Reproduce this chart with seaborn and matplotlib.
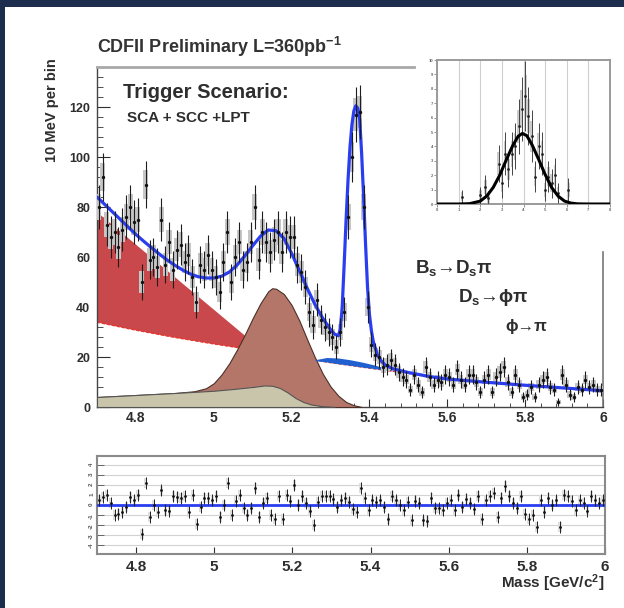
import numpy as np
import matplotlib
matplotlib.use("Agg")
import matplotlib.pyplot as plt
from matplotlib.patches import Rectangle
from matplotlib.ticker import MultipleLocator, FixedLocator
import seaborn as sns

# ---------------- data ----------------
mass_lo, mass_hi, bin_width = 4.70, 6.00, 0.01

counts = [
    80, 92, 73, 68, 70, 64, 71, 76, 80, 74,      # 4.705 - 4.795
    75, 50, 89, 59, 60, 56, 75, 57, 66, 55,      # 4.805 - 4.895
    63, 65, 58, 61, 52, 42, 57, 55, 61, 55,      # 4.905 - 4.995
    52, 46, 58, 70, 50, 60, 66, 55, 58, 66,      # 5.005 - 5.095
    80, 59, 70, 66, 62, 67, 70, 62, 70, 68,      # 5.105 - 5.195
    68, 57, 54, 48, 38, 33, 43, 35, 32, 30,      # 5.205 - 5.295
    28, 24, 30, 38, 76, 100, 117, 118, 80, 40,   # 5.305 - 5.395
    25, 21, 20, 16, 17, 19, 17, 14, 12, 11,      # 5.405 - 5.495
    7, 13, 9, 6, 16, 12, 9, 11, 10, 13,          # 5.505 - 5.595
    12, 9, 15, 11, 9, 13, 13, 10, 6, 11,         # 5.605 - 5.695
    13, 6, 12, 14, 16, 10, 6, 13, 9, 4,          # 5.705 - 5.795
    5, 8, 4, 9, 11, 12, 8, 7, 2, 13,             # 5.805 - 5.895
    9, 5, 4, 8, 7, 11, 8, 9, 7, 7,               # 5.905 - 5.995
]

residuals = [
    0.5, 0.8, 1.0, 0.2, -1.0, -0.9, -0.7, -0.2, 0.8, 0.5,
    1.0, -2.9, 2.2, -1.2, 0.0, -0.7, 1.5, -0.5, -0.6, 0.9,
    0.8, 0.7, 0.9, -0.7, 1.0, -1.9, -0.2, 0.7, 0.7, 0.5,
    0.9, -1.2, 0.0, 2.2, -1.0, 0.4, 1.0, -0.3, -1.0, -0.3,
    1.7, -1.2, 0.2, 0.7, -1.0, -1.4, 0.9, -1.4, 1.0, 0.4,
    2.0, 0.0, 0.9, 0.2, -0.6, -2.0, 0.3, 0.9, 0.9, 0.9,
    0.6, -0.2, 0.5, 0.7, 0.3, -0.4, -0.7, 1.7, 0.7, -0.5,
    0.5, 0.3, 0.5, -0.2, -1.4, 0.9, 0.5, 0.0, -0.5, 0.3,
    -1.5, 0.4, 0.2, -1.5, -1.6, 0.7, -0.3, -0.3, -0.5, 0.2,
    0.5, -0.5, 1.0, -0.2, 0.6, 0.2, -0.4, 0.9, -1.4, 0.5,
    0.9, 1.2, -1.2, 0.7, 1.9, 0.9, 0.2, -0.3, 0.9, -0.9,
    -1.4, -1.0, -2.2, 0.5, -0.7, 0.7, 0.0, 0.5, -2.2, 1.0,
    0.9, 0.4, -0.5, 0.5, 0.2, -0.6, 0.9, 0.5, 0.2, 0.5,
]

# total fit curve
fit_x = [4.70, 4.72, 4.74, 4.76, 4.78, 4.80, 4.82, 4.84, 4.86, 4.88,
         4.90, 4.92, 4.94, 4.96, 4.98, 5.00, 5.02, 5.04, 5.06, 5.08,
         5.10, 5.12, 5.14, 5.16, 5.18, 5.20, 5.22, 5.24, 5.26, 5.28,
         5.30, 5.31, 5.32, 5.325, 5.33, 5.335, 5.34, 5.345, 5.35, 5.355,
         5.36, 5.365, 5.37, 5.375, 5.38, 5.385, 5.39, 5.395, 5.40, 5.405,
         5.41, 5.42, 5.43, 5.44, 5.46, 5.50, 5.55, 5.60, 5.70, 5.80,
         5.90, 6.00]
fit_y = [84.0, 81.0, 78.0, 75.0, 72.0, 69.0, 66.3, 63.7, 61.2, 58.8,
         56.7, 54.8, 53.2, 52.1, 51.6, 51.6, 52.3, 54.0, 56.8, 60.5,
         64.5, 68.3, 70.8, 70.5, 67.5, 61.5, 54.5, 47.5, 41.0, 35.5,
         31.0, 29.2, 28.5, 31.0, 40.0, 57.0, 75.0, 91.0, 104.0, 113.0,
         118.5, 120.5, 119.5, 115.0, 101.0, 84.0, 65.0, 48.0, 37.0, 30.5,
         26.0, 21.0, 18.5, 16.8, 15.3, 13.8, 12.3, 11.2, 9.9, 8.7,
         7.6, 6.5]

# combinatorial background (red line)
comb_x = [4.70, 4.80, 4.90, 5.00, 5.10, 5.20, 5.30, 5.40, 5.50, 5.60, 5.70, 5.80, 5.90, 6.00]
comb_y = [34.0, 30.8, 27.9, 25.3, 22.9, 20.2, 17.8, 15.6, 13.5, 11.0, 9.8, 8.6, 7.5, 6.4]

# partially reconstructed background band (red)
band_x = [4.70, 4.80, 4.90, 5.00, 5.10, 5.14]
band_top = [78.0, 65.0, 52.0, 39.0, 26.0, 21.3]
band_bottom = [34.0, 30.8, 27.9, 25.3, 22.9, 21.3]

# brown reflection (stacked top)
brown_x = [4.70, 4.80, 4.90, 4.95, 4.98, 5.00, 5.02, 5.04, 5.06, 5.08,
           5.10, 5.12, 5.14, 5.15, 5.16, 5.18, 5.20, 5.22, 5.24, 5.26,
           5.28, 5.30, 5.32, 5.34, 5.36, 5.38]
brown_y = [4.0, 4.8, 5.6, 6.3, 7.5, 9.5, 13.0, 17.5, 23.0, 29.0,
           35.5, 41.5, 46.3, 47.5, 47.3, 45.2, 40.8, 34.5, 27.0, 19.8,
           13.3, 8.2, 4.5, 2.0, 0.7, 0.0]

# beige component
beige_x = [4.70, 4.80, 4.90, 5.00, 5.05, 5.10, 5.13, 5.15, 5.17, 5.19, 5.21, 5.23, 5.25, 5.28, 5.31]
beige_y = [4.0, 4.8, 5.6, 6.5, 7.2, 8.0, 8.6, 8.5, 7.6, 5.8, 3.6, 2.0, 1.0, 0.3, 0.0]

# small blue component on top of the background
dsk_x = [5.26, 5.29, 5.32, 5.35, 5.38, 5.41, 5.44, 5.46]
dsk_bottom = [18.6, 18.0, 17.3, 16.7, 16.0, 15.4, 14.8, 14.4]
dsk_top = [18.9, 19.8, 19.6, 18.9, 18.0, 16.9, 15.6, 14.4]

# inset
ins_x = [1.15, 2.0, 2.23, 2.38, 2.85, 3.0, 3.15, 3.3, 3.46, 3.6, 3.77, 3.92,
         4.08, 4.23, 4.38, 4.54, 4.7, 4.85, 5.0, 5.15, 5.3, 5.46, 5.6, 6.08]
ins_y = [0.5, 0.6, 1.2, 0.4, 2.8, 1.45, 3.5, 2.4, 3.5, 4.0, 5.4, 6.6,
         7.5, 6.1, 4.7, 1.9, 4.0, 3.5, 1.0, 1.9, 1.45, 2.0, 0.75, 1.0]
ins_err = [0.5, 0.6, 0.8, 0.5, 1.3, 1.0, 1.5, 1.2, 1.5, 1.6, 1.9, 2.2,
           2.4, 2.0, 1.8, 1.1, 1.6, 1.5, 0.8, 1.1, 1.0, 1.2, 0.7, 0.8]
gauss_x = [0.0, 1.0, 1.5, 2.0, 2.3, 2.6, 2.9, 3.2, 3.5, 3.75, 3.95, 4.15,
           4.4, 4.7, 5.0, 5.3, 5.6, 5.9, 6.2, 6.5, 7.0, 8.0]
gauss_y = [0.0, 0.0, 0.02, 0.2, 0.55, 1.15, 2.0, 3.05, 4.05, 4.7, 4.9, 4.75,
           4.1, 3.1, 2.05, 1.15, 0.55, 0.2, 0.06, 0.01, 0.0, 0.0]

main_xticks = [4.8, 5.0, 5.2, 5.4, 5.6, 5.8, 6.0]
main_xticklabels = ["4.8", "5", "5.2", "5.4", "5.6", "5.8", "6"]
main_yticks = [0, 20, 40, 60, 80, 100, 120]

# ---------------- style ----------------
sns.set_style("white")
plt.rcParams.update({
    "font.family": ["Liberation Sans", "DejaVu Sans"],
    "font.weight": "bold",
    "mathtext.fontset": "custom",
    "mathtext.rm": "Liberation Sans:bold",
    "mathtext.bf": "Liberation Sans:bold",
    "mathtext.it": "Liberation Sans:italic:bold",
    "axes.unicode_minus": False,
})

NAVY = "#1c2d4e"
RED = "#c9484c"
BROWN = "#b5766a"
BEIGE = "#c9c5aa"
BLUE = "#2a3ef0"
GRAYBOX = "#c6c6c6"
TXT = "#2e2e2e"

W, H = 624, 608
fig = plt.figure(figsize=(W / 100, H / 100), dpi=100, facecolor=NAVY)
fig.add_artist(Rectangle((5 / W, 0), 1, 1 - 7 / H, transform=fig.transFigure,
                         facecolor="white", edgecolor="none", zorder=-10))

bin_x = np.arange(len(counts)) * bin_width + mass_lo + bin_width / 2
cnt = np.array(counts, dtype=float)
err = np.sqrt(cnt)

# ---------------- main panel ----------------
ax = fig.add_axes([97 / W, 201 / H, 506 / W, 340 / H])
ax.set_facecolor("white")
ax.fill_between(band_x, band_bottom, band_top, color=RED, lw=0, zorder=1)
sns.lineplot(x=comb_x, y=comb_y, ax=ax, color="#e33a33", lw=1.2,
             linestyle=(0, (2, 1)), zorder=2, sort=False, estimator=None)
ax.fill_between(brown_x, 0, brown_y, facecolor=BROWN, edgecolor="#4a3028", lw=0.8, zorder=3)
ax.fill_between(beige_x, 0, beige_y, facecolor=BEIGE, edgecolor="#555555", lw=0.8, zorder=4)
ax.fill_between(dsk_x, dsk_bottom, dsk_top, color="#1f5fd0", lw=0, zorder=4)
ax.bar(bin_x, 1.2 * err, bottom=cnt - 0.6 * err, width=0.013, color=GRAYBOX,
       edgecolor="none", zorder=5)
sns.lineplot(x=fit_x, y=fit_y, ax=ax, color=BLUE, lw=2.3, zorder=6, sort=False, estimator=None)
ax.errorbar(bin_x, cnt, yerr=err, fmt="none", ecolor="#1e1e1e", elinewidth=0.8, zorder=7)
sns.scatterplot(x=bin_x, y=cnt, ax=ax, s=6, color="#111111", linewidth=0, zorder=8)

ax.set_xlim(mass_lo, mass_hi)
ax.set_ylim(0, 136)
ax.set_xlabel("")
ax.set_ylabel("")
ax.xaxis.set_major_locator(FixedLocator(main_xticks))
ax.set_xticklabels(main_xticklabels)
ax.xaxis.set_minor_locator(MultipleLocator(0.04))
ax.yaxis.set_major_locator(FixedLocator(main_yticks))
ax.yaxis.set_minor_locator(MultipleLocator(4))
ax.tick_params(axis="x", which="major", direction="in", length=6, width=0.8,
               labelsize=10, pad=3, colors=TXT)
ax.tick_params(axis="x", which="minor", direction="in", length=3, width=0.6, colors=TXT)
ax.tick_params(axis="y", which="major", direction="in", length=9, width=0.8,
               labelsize=9, pad=5, colors=TXT)
ax.tick_params(axis="y", which="minor", direction="in", length=4, width=0.6, colors=TXT)
ax.tick_params(which="both", bottom=True, left=True, top=False, right=False)
for lab in ax.get_xticklabels() + ax.get_yticklabels():
    lab.set_fontweight("bold")

for s in ["left", "bottom"]:
    ax.spines[s].set_color("#444444")
    ax.spines[s].set_linewidth(1.0)
ax.spines["top"].set_bounds(4.70, 5.515)
ax.spines["top"].set_color("#a8a8a8")
ax.spines["top"].set_linewidth(2.0)
ax.spines["right"].set_bounds(0, 62)
ax.spines["right"].set_color("#777777")
ax.spines["right"].set_linewidth(1.2)

ax.text(4.767, 125.6, "Trigger Scenario:", fontsize=14.5, fontweight="bold",
        color=TXT, ha="left", va="center", zorder=10)
ax.text(4.777, 115.6, "SCA + SCC +LPT", fontsize=11, fontweight="bold",
        color=TXT, ha="left", va="center", zorder=10)
ax.text(5.5175, 55.6, r"$\mathbf{B_s}$→$\mathbf{D_s}$π", fontsize=13.5, fontweight="bold",
        color=TXT, ha="left", va="center", zorder=10)
ax.text(5.628, 43.6, r"$\mathbf{D_s}$→ϕπ", fontsize=13.5, fontweight="bold",
        color=TXT, ha="left", va="center", zorder=10)
ax.text(5.749, 32.0, "ϕ→π", fontsize=12, fontweight="bold",
        color=TXT, ha="left", va="center", zorder=10)

fig.text(97 / W, 1 - 47 / H, r"CDFII Preliminary L=360pb$^{\mathbf{-1}}$", fontsize=13,
         fontweight="bold", color="#333333", ha="left", va="center")
fig.text(52 / W, 1 - 58 / H, "10 MeV per bin", fontsize=10.5, fontweight="bold",
         color=TXT, rotation=90, ha="center", va="top")

# ---------------- inset ----------------
axi = fig.add_axes([437 / W, 404 / H, 173 / W, 144 / H])
axi.set_facecolor("white")
axi.set_xlim(0, 8)
axi.set_ylim(0, 10)
axi.xaxis.set_major_locator(MultipleLocator(1))
axi.yaxis.set_major_locator(MultipleLocator(1))
axi.grid(axis="x", color="#cfcfcf", lw=0.8)
axi.set_axisbelow(True)
ins_y_a = np.array(ins_y)
ins_e_a = np.array(ins_err)
axi.bar(ins_x, 1.2 * ins_e_a, bottom=ins_y_a - 0.6 * ins_e_a, width=0.12,
        color="#cccccc", edgecolor="none", zorder=2)
axi.errorbar(ins_x, ins_y, yerr=ins_err, fmt="none", ecolor="#444444", elinewidth=0.7, zorder=3)
sns.scatterplot(x=ins_x, y=ins_y, ax=axi, s=4, color="#222222", linewidth=0, zorder=4)
sns.lineplot(x=gauss_x, y=gauss_y, ax=axi, color="black", lw=2.2, zorder=5,
             sort=False, estimator=None)
axi.set_xlabel("")
axi.set_ylabel("")
axi.tick_params(axis="both", labelsize=3, length=2, width=0.5, pad=1,
                colors="#666666", direction="out")
axi.tick_params(left=True, bottom=True)
for s in axi.spines.values():
    s.set_color("#9a9a9a")
    s.set_linewidth(1.4)

# ---------------- residual panel ----------------
axr = fig.add_axes([97 / W, 54 / H, 508 / W, 98 / H])
axr.set_facecolor("white")
axr.set_xlim(mass_lo, mass_hi)
axr.set_ylim(-4.9, 4.9)
axr.yaxis.set_major_locator(MultipleLocator(1))
axr.grid(axis="y", color="#d2d2d2", lw=0.8)
axr.set_axisbelow(True)
res = np.array(residuals)
axr.bar(bin_x, 1.0, bottom=res - 0.5, width=0.008, color="#dedede", edgecolor="none", zorder=2)
axr.axhline(0, color=BLUE, lw=2.0, zorder=3)
axr.errorbar(bin_x, res, yerr=0.6, fmt="none", ecolor="#222222", elinewidth=0.7, zorder=4)
sns.scatterplot(x=bin_x, y=res, ax=axr, s=4, color="#111111", linewidth=0, zorder=5)
axr.set_xlabel("")
axr.set_ylabel("")
axr.xaxis.set_major_locator(FixedLocator(main_xticks))
axr.set_xticklabels(main_xticklabels)
axr.xaxis.set_minor_locator(MultipleLocator(0.04))
axr.tick_params(axis="x", which="major", direction="in", length=5, width=0.8,
                labelsize=11, pad=4, colors=TXT)
axr.tick_params(axis="x", which="minor", direction="in", length=2.5, width=0.6, colors=TXT)
axr.tick_params(axis="y", which="major", direction="in", length=5, width=0.6,
                labelsize=4.5, pad=2, colors="#555555", labelrotation=90)
axr.tick_params(bottom=True, left=True)
for lab in axr.get_xticklabels():
    lab.set_fontweight("bold")
for s in axr.spines.values():
    s.set_color("#8a8a8a")
    s.set_linewidth(1.5)

fig.text(604 / W, 1 - 583 / H, r"Mass [GeV/c$^{\mathbf{2}}$]", fontsize=11, fontweight="bold",
         color=TXT, ha="right", va="center")

fig.savefig("out.png", dpi=100, facecolor=fig.get_facecolor())
